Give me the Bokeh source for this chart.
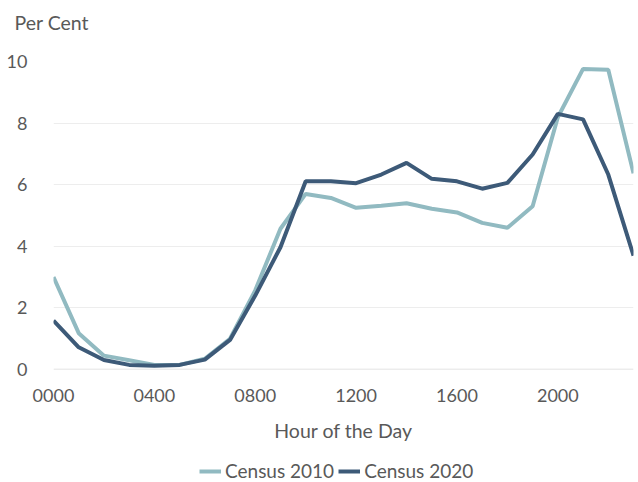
from bokeh.plotting import figure
from bokeh.layouts import column
from bokeh.models import Range1d, FixedTicker, Legend, LegendItem, ColumnDataSource
from bokeh.embed import file_html
from bokeh.resources import INLINE

hours = list(range(24))
census_2010 = [3.0, 1.18, 0.45, 0.3, 0.15, 0.15, 0.35, 1.0, 2.57, 4.57, 5.7, 5.57,
               5.25, 5.32, 5.4, 5.22, 5.1, 4.76, 4.6, 5.3, 8.19, 9.76, 9.73, 6.37]
census_2020 = [1.59, 0.72, 0.31, 0.15, 0.12, 0.15, 0.32, 0.96, 2.4, 3.97, 6.11, 6.11,
               6.05, 6.33, 6.71, 6.19, 6.11, 5.87, 6.06, 6.98, 8.3, 8.12, 6.33, 3.7]
series_names = ["Census 2010", "Census 2020"]
x_ticks = [0, 4, 8, 12, 16, 20]
x_tick_labels = ["0000", "0400", "0800", "1200", "1600", "2000"]
y_ticks = [0, 2, 4, 6, 8, 10]

FONT = "Lato"
TXT = "#595959"
LIGHT = "#91BAC1"
DARK = "#3D5A78"

src = ColumnDataSource(dict(h=hours, c10=census_2010, c20=census_2020))

p = figure(width=634, height=448, output_backend="svg", toolbar_location=None,
           x_range=Range1d(0, 23), y_range=Range1d(0, 10),
           min_border_left=53, min_border_top=61, min_border_right=1, min_border_bottom=79)
p.outline_line_color = None
p.background_fill_color = "white"
p.border_fill_color = "white"

# two-line title (second line blank) lifts "Per Cent" towards the top edge
p.title.text = "Per Cent\n "
p.title.align = "left"
p.title.offset = -39
p.title.text_font = FONT
p.title.text_font_style = "normal"
p.title.text_font_size = "19.5px"
p.title.text_color = TXT
p.title.standoff = 10

r10 = p.line("h", "c10", source=src, line_color=LIGHT, line_width=4)
r20 = p.line("h", "c20", source=src, line_color=DARK, line_width=4)

xa = p.xaxis[0]
xa.ticker = FixedTicker(ticks=x_ticks)
xa.major_label_overrides = {t: l for t, l in zip(x_ticks, x_tick_labels)}
xa.axis_label = "Hour of the Day"
xa.axis_label_text_font = FONT
xa.axis_label_text_font_style = "normal"
xa.axis_label_text_font_size = "19.5px"
xa.axis_label_text_color = TXT
xa.axis_label_standoff = 14
xa.major_label_text_font = FONT
xa.major_label_text_font_size = "18px"
xa.major_label_text_color = TXT
xa.major_label_standoff = 13
xa.axis_line_color = None
xa.major_tick_line_color = None
xa.minor_tick_line_color = None

ya = p.yaxis[0]
ya.ticker = FixedTicker(ticks=y_ticks)
ya.major_label_text_font = FONT
ya.major_label_text_font_size = "18px"
ya.major_label_text_color = TXT
ya.major_label_standoff = 20
ya.axis_line_color = None
ya.major_tick_line_color = None
ya.minor_tick_line_color = None

p.xgrid.grid_line_color = None
p.ygrid.ticker = FixedTicker(ticks=y_ticks)
p.ygrid.grid_line_color = "#EDEDED"
p.ygrid.grid_line_width = 1

# baseline axis line at 0
p.line([0, 23], [0, 0], line_color="#D9D9D9", line_width=1.5, level="underlay")

# legend in a separate strip below the chart (its proxy lines lie outside the strip's range)
lg = figure(width=634, height=34, output_backend="svg", toolbar_location=None,
            x_range=Range1d(0, 1), y_range=Range1d(0, 1),
            x_axis_location=None, y_axis_location=None,
            min_border_left=0, min_border_top=0, min_border_right=0, min_border_bottom=0)
lg.grid.visible = False
lg.outline_line_color = None
lr10 = lg.line([5, 6], [5, 6], line_color=LIGHT, line_width=4)
lr20 = lg.line([5, 6], [5, 6], line_color=DARK, line_width=4)
legend = Legend(items=[LegendItem(label=series_names[0], renderers=[lr10]),
                       LegendItem(label=series_names[1], renderers=[lr20])],
                orientation="horizontal", location=(146, 0),
                label_text_font=FONT, label_text_font_size="19px", label_text_color=TXT,
                glyph_width=22, glyph_height=20, spacing=4, label_standoff=4,
                label_height=20,
                border_line_color=None, background_fill_alpha=0, margin=0, padding=0)
lg.add_layout(legend)

layout = column(p, lg, spacing=0)
open("out.html", "w").write(file_html(layout, INLINE))
